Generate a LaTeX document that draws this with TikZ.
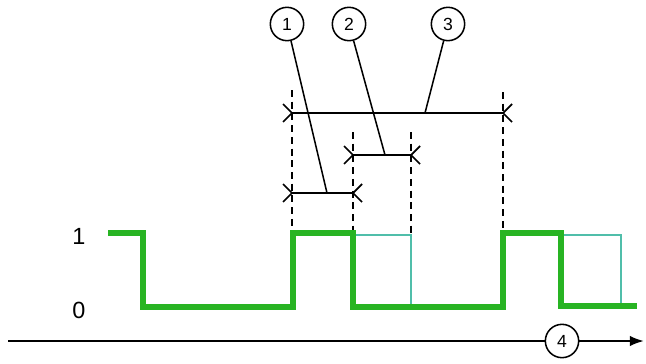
\documentclass[tikz,border=0pt]{standalone}
\usepackage{fontspec}
\setmainfont{Liberation Sans}
\usetikzlibrary{arrows.meta}
\definecolor{signalgreen}{RGB}{40,180,35}
\definecolor{signalteal}{RGB}{80,190,170}

\begin{document}
\begin{tikzpicture}[
    x=0.03cm, y=-0.03cm,
    >={Latex[length=12pt, width=9pt]},
    callout/.style={
        circle, draw, line width=1.3pt, minimum size=1cm, inner sep=0pt,
        font=\fontsize{15}{17}\selectfont
    },
    level/.style={font=\fontsize{20}{24}\selectfont},
    dimline/.style={line width=2pt},
    leader/.style={line width=1.3pt},
    guide/.style={line width=1.4pt, dash pattern=on 6pt off 4pt},
    pulse/.style={signalgreen, line width=4.6pt, line join=miter},
    echo/.style={signalteal, line width=1.3pt}
]
\useasboundingbox (0,0) rectangle (646,363);

% callouts
\node[callout] (c1) at (287,24) {1};
\node[callout] (c2) at (349,24) {2};
\node[callout] (c3) at (448,24) {3};
\node[callout] (c4) at (562,341) {4};

% level labels
\node[level] (hi) at (79,236) {1};
\node[level] (lo) at (79,310) {0};

% dimension end points
\coordinate (dAl) at (292,113);
\coordinate (dAr) at (503,113);
\coordinate (dBl) at (353,155);
\coordinate (dBr) at (411,155);
\coordinate (dCl) at (292,193);
\coordinate (dCr) at (353,193);

% guides
\draw[guide] (292,90) -- (292,233);
\draw[guide] (503,92) -- (503,233);
\draw[guide] (353,132) -- (353,233);
\draw[guide] (411,132) -- (411,235);

% dimension lines
\draw[dimline] (dAl) -- (dAr);
\draw[dimline] (dBl) -- (dBr);
\draw[dimline] (dCl) -- (dCr);
\foreach \p in {dAl,dBl,dCl}
    \draw[dimline, line width=1.5pt] (\p) -- ++(-9,-9) (\p) -- ++(-9,9);
\foreach \p in {dAr,dBr,dCr}
    \draw[dimline, line width=1.5pt] (\p) -- ++(9,-9) (\p) -- ++(9,9);

% leaders
\coordinate (m1) at (327,193);
\coordinate (m2) at (385,155);
\coordinate (m3) at (425,113);
\draw[leader] (c1) -- (m1);
\draw[leader] (c2) -- (m2);
\draw[leader] (c3) -- (m3);

% signals
\draw[echo] (353,235) -- (411,235) -- (411,307);
\draw[echo] (561,235) -- (621,235) -- (621,307);
\draw[pulse] (108,233) -- (143,233) -- (143,307) -- (293,307) -- (293,233)
    -- (353,233) -- (353,307) -- (503,307) -- (503,233) -- (561,233)
    -- (561,306) -- (637,306);

% time axis
\coordinate (t0) at (8,341);
\coordinate (t1) at (644,341);
\draw[line width=2pt] (t0) -- (c4);
\draw[->, line width=2pt] (c4) -- (t1);

\end{tikzpicture}
\end{document}
